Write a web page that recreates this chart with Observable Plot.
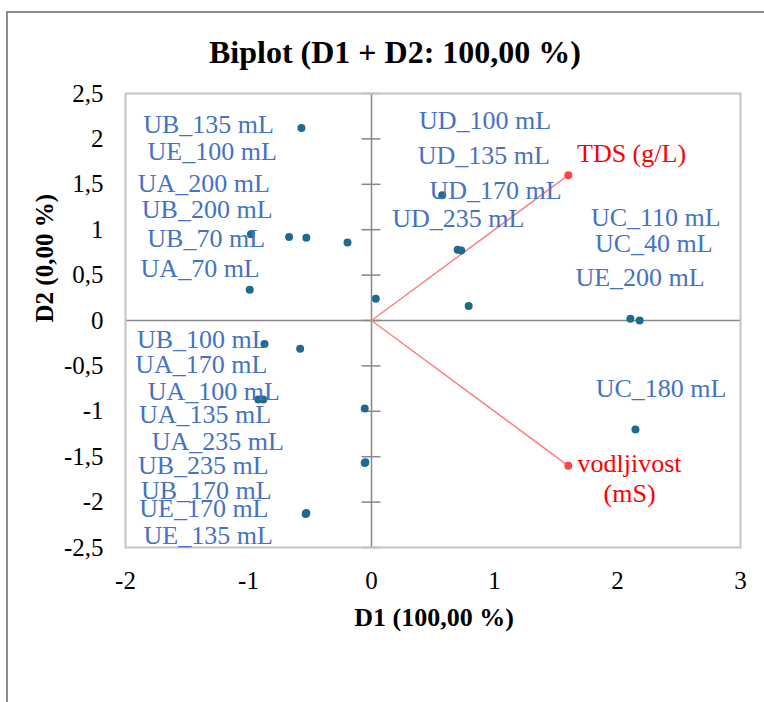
<!DOCTYPE html>
<html>
<head>
<meta charset="utf-8">
<script src="https://cdn.jsdelivr.net/npm/d3@7"></script>
<script src="https://cdn.jsdelivr.net/npm/@observablehq/plot@0.6"></script>
<style>
  html, body { margin: 0; padding: 0; background: #fff; overflow: hidden; }
  #wrap { position: relative; width: 764px; height: 702px; overflow: hidden; }
  #outer { position: absolute; left: 6px; top: 11px; width: 900px; height: 900px; border: 2px solid #8c8c8c; pointer-events: none; }
  #chart svg { display: block; background: transparent; }
</style>
</head>
<body>
<div id="wrap"><div id="chart"></div><div id="outer"></div></div>
<script>
// Observations (points) and their label anchors (data units)
const obsNames = ["UB_135 mL","UE_100 mL","UA_200 mL","UB_200 mL","UB_70 mL","UA_70 mL",
  "UD_100 mL","UD_135 mL","UD_170 mL","UD_235 mL","UC_110 mL","UC_40 mL","UE_200 mL",
  "UB_100 mL","UA_170 mL","UA_100 mL","UA_135 mL","UA_235 mL","UB_235 mL","UB_170 mL",
  "UE_170 mL","UE_135 mL","UC_180 mL"];
const obsD1 = [-0.57,-0.67,-0.53,-0.195,-0.98,-0.99,
  0.575,0.70,0.73,0.035,2.105,2.18,0.79,
  -0.87,-0.58,-0.92,-0.88,-0.055,-0.055,-0.05,
  -0.535,-0.53,2.146];
const obsD2 = [2.12,0.92,0.91,0.86,0.95,0.34,
  1.38,0.78,0.77,0.24,0.02,0.00,0.16,
  -0.26,-0.31,-0.87,-0.87,-0.97,-1.57,-1.56,
  -2.13,-2.12,-1.20];
const labelD1 = [-1.325,-1.295,-1.363,-1.336,-1.344,-1.393,
  0.923,0.913,1.008,0.706,2.311,2.295,2.183,
  -1.376,-1.384,-1.282,-1.354,-1.250,-1.367,-1.343,
  -1.363,-1.328,2.354];
const labelD2 = [2.063,1.770,1.413,1.127,0.807,0.477,
  2.111,1.726,1.340,1.028,1.039,0.752,0.385,
  -0.301,-0.576,-0.873,-1.131,-1.424,-1.688,-1.964,
  -2.166,-2.459,-0.845];

// Variables (vectors)
const varNames = ["TDS (g/L)", "vodljivost\n(mS)"];
const varD1 = [1.60, 1.60];
const varD2 = [1.60, -1.60];
const varLabelD1 = [2.114, 2.098];
const varLabelD2 = [1.743, -2.001];

const xTicks = [-2, -1, 0, 1, 2, 3];
const yTicks = [-2.5, -2, -1.5, -1, -0.5, 0, 0.5, 1, 1.5, 2, 2.5];

const titleText = "Biplot (D1 + D2: 100,00 %)";
const xTitle = "D1 (100,00 %)";
const yTitle = "D2 (0,00 %)";

const obs = obsNames.map((n, i) => ({name: n, x: obsD1[i], y: obsD2[i], lx: labelD1[i], ly: labelD2[i]}));
const vars = varNames.map((n, i) => ({name: n, x: varD1[i], y: varD2[i], lx: varLabelD1[i], ly: varLabelD2[i]}));

const fmt = d => (d < 0 ? "-" : "") + String(Math.abs(d)).replace(".", ",");
const hTick = { draw(ctx) { ctx.moveTo(-10, 0); ctx.lineTo(9, 0); } };

const axisGray = "#888888";
const serif = "'Liberation Serif', 'Times New Roman', serif";

const chart = Plot.plot({
  width: 764,
  height: 702,
  marginLeft: 125,
  marginRight: 24,
  marginTop: 93,
  marginBottom: 155,
  style: { fontFamily: serif, background: "transparent", color: "#000" },
  x: { domain: [-2, 3] },
  y: { domain: [-2.5, 2.5] },
  marks: [
    Plot.ruleX([0], { stroke: axisGray, strokeWidth: 1.5 }),
    Plot.ruleY([0], { stroke: axisGray, strokeWidth: 1.5 }),
    Plot.dot(yTicks, { x: 0, y: d => d, symbol: hTick, r: 5, stroke: axisGray, strokeWidth: 1.5, fill: "none" }),
    Plot.frame({ stroke: "#c4c4c4", strokeWidth: 2 }),
    Plot.axisX(xTicks, { tickSize: 0, tickPadding: 24, fontSize: 25, tickFormat: fmt, label: null, fill: "#000" }),
    Plot.axisY(yTicks, { tickSize: 0, tickPadding: 22, fontSize: 25, tickFormat: fmt, label: null, fill: "#000" }),
    Plot.link(vars, { x1: 0, y1: 0, x2: "x", y2: "y", stroke: "#ff8080", strokeWidth: 1.5 }),
    Plot.dot(vars, { x: "x", y: "y", r: 4, fill: "#ff4545" }),
    Plot.dot(obs, { x: "x", y: "y", r: 4, fill: "#1f6b8e" }),
    Plot.text(obs, { x: "lx", y: "ly", text: "name", fill: "#4472c4", fontSize: 26, lineAnchor: "bottom", textAnchor: "middle" }),
    Plot.text(vars, { x: "lx", y: "ly", text: "name", fill: "#ff0000", fontSize: 26, lineAnchor: "bottom", textAnchor: "middle", lineHeight: 1.154 }),
    Plot.text([titleText], { frameAnchor: "top", dx: -38, dy: -31, text: d => d, fontSize: 32, fontWeight: "bold", lineAnchor: "bottom", fill: "#000" }),
    Plot.text([xTitle], { frameAnchor: "bottom", dx: 1, dy: 78, text: d => d, fontSize: 26, fontWeight: "bold", lineAnchor: "bottom", fill: "#000" }),
    Plot.text([yTitle], { frameAnchor: "left", dx: -73, dy: 2, rotate: -90, text: d => d, fontSize: 25, fontWeight: "bold", lineAnchor: "bottom", fill: "#000" })
  ]
});
document.getElementById("chart").appendChild(chart);
</script>
</body>
</html>
